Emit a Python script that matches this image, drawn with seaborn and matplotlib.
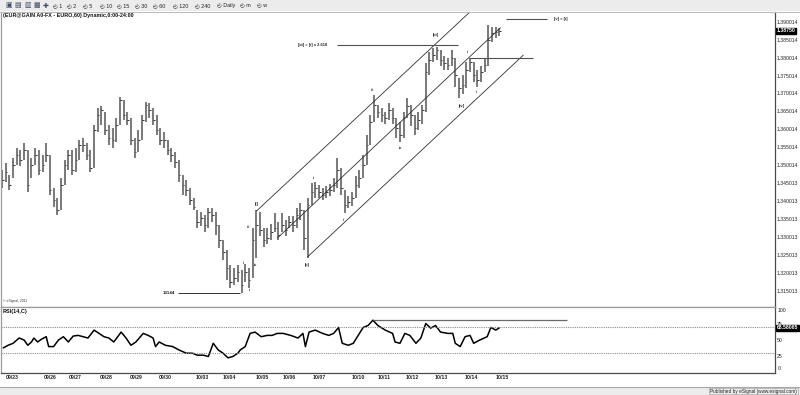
import matplotlib
matplotlib.use("Agg")
import matplotlib.pyplot as plt
import matplotlib.transforms as mtrans
from matplotlib.patches import Rectangle
import numpy as np
import pandas as pd
import seaborn as sns

sns.set_style("white")
plt.rcParams['font.family'] = ['Liberation Sans', 'DejaVu Sans']

# ---------------- data ----------------
bar_hours = list(range(0, 408, 3))  # one bar every 3 hours

close = [1.3459, 1.3481, 1.3445, 1.3501, 1.3529, 1.3515, 1.3543, 1.3445, 1.3501, 1.3529,
         1.3487, 1.3501, 1.3529, 1.3431, 1.3403, 1.3375, 1.3445, 1.3501, 1.3529, 1.3487,
         1.3515, 1.3557, 1.3557, 1.3529, 1.3493, 1.3598, 1.3640, 1.3654, 1.3598, 1.3576,
         1.3571, 1.3612, 1.3682, 1.3640, 1.3626, 1.3571, 1.3537, 1.3571, 1.3626, 1.3668,
         1.3654, 1.3626, 1.3598, 1.3571, 1.3571, 1.3543, 1.3529, 1.3509, 1.3473, 1.3445,
         1.3431, 1.3403, 1.3384, 1.3342, 1.3353, 1.3334, 1.3370, 1.3362, 1.3334, 1.3292,
         1.3258, 1.3214, 1.3175, 1.3186, 1.3203, 1.3167, 1.3203, 1.3180, 1.3292, 1.3334,
         1.3320, 1.3292, 1.3298, 1.3314, 1.3325, 1.3306, 1.3334, 1.3320, 1.3342, 1.3334,
         1.3362, 1.3375, 1.3298, 1.3389, 1.3426, 1.3437, 1.3426, 1.3417, 1.3426, 1.3431,
         1.3445, 1.3487, 1.3437, 1.3389, 1.3398, 1.3409, 1.3445, 1.3465, 1.3501, 1.3557,
         1.3621, 1.3668, 1.3649, 1.3640, 1.3632, 1.3654, 1.3632, 1.3604, 1.3584, 1.3632,
         1.3665, 1.3640, 1.3604, 1.3626, 1.3654, 1.3760, 1.3793, 1.3807, 1.3821, 1.3793,
         1.3785, 1.3779, 1.3799, 1.3752, 1.3715, 1.3724, 1.3766, 1.3788, 1.3752, 1.3738,
         1.3760, 1.3779, 1.3849, 1.3869, 1.3871, 1.3875]
high = [1.3487, 1.3506, 1.3473, 1.3520, 1.3548, 1.3543, 1.3562, 1.3543, 1.3520, 1.3548,
        1.3543, 1.3529, 1.3562, 1.3529, 1.3437, 1.3409, 1.3465, 1.3515, 1.3543, 1.3543,
        1.3548, 1.3571, 1.3576, 1.3562, 1.3543, 1.3612, 1.3660, 1.3665, 1.3649, 1.3612,
        1.3604, 1.3632, 1.3690, 1.3682, 1.3649, 1.3632, 1.3576, 1.3598, 1.3640, 1.3676,
        1.3674, 1.3660, 1.3640, 1.3604, 1.3593, 1.3571, 1.3548, 1.3537, 1.3515, 1.3473,
        1.3459, 1.3437, 1.3409, 1.3375, 1.3370, 1.3362, 1.3381, 1.3381, 1.3370, 1.3334,
        1.3292, 1.3264, 1.3222, 1.3214, 1.3222, 1.3208, 1.3225, 1.3214, 1.3325, 1.3375,
        1.3370, 1.3325, 1.3325, 1.3336, 1.3367, 1.3342, 1.3367, 1.3348, 1.3359, 1.3359,
        1.3381, 1.3395, 1.3375, 1.3409, 1.3451, 1.3454, 1.3445, 1.3437, 1.3442, 1.3448,
        1.3465, 1.3520, 1.3493, 1.3431, 1.3414, 1.3426, 1.3470, 1.3487, 1.3529, 1.3584,
        1.3640, 1.3696, 1.3668, 1.3660, 1.3649, 1.3674, 1.3660, 1.3632, 1.3621, 1.3649,
        1.3688, 1.3668, 1.3640, 1.3649, 1.3668, 1.3785, 1.3816, 1.3827, 1.3830, 1.3821,
        1.3805, 1.3799, 1.3821, 1.3799, 1.3743, 1.3752, 1.3788, 1.3799, 1.3788, 1.3766,
        1.3777, 1.3799, 1.3891, 1.3885, 1.3885, 1.3883]
low = [1.3437, 1.3454, 1.3431, 1.3465, 1.3501, 1.3498, 1.3515, 1.3426, 1.3465, 1.3501,
       1.3473, 1.3481, 1.3509, 1.3417, 1.3384, 1.3362, 1.3375, 1.3445, 1.3487, 1.3473,
       1.3481, 1.3515, 1.3537, 1.3515, 1.3481, 1.3493, 1.3593, 1.3612, 1.3584, 1.3557,
       1.3548, 1.3565, 1.3612, 1.3626, 1.3612, 1.3557, 1.3520, 1.3537, 1.3571, 1.3621,
       1.3632, 1.3612, 1.3584, 1.3557, 1.3548, 1.3529, 1.3509, 1.3493, 1.3454, 1.3417,
       1.3414, 1.3389, 1.3375, 1.3325, 1.3331, 1.3314, 1.3325, 1.3342, 1.3306, 1.3270,
       1.3236, 1.3180, 1.3158, 1.3167, 1.3175, 1.3144, 1.3175, 1.3158, 1.3186, 1.3242,
       1.3303, 1.3272, 1.3281, 1.3292, 1.3314, 1.3292, 1.3314, 1.3303, 1.3325, 1.3314,
       1.3325, 1.3348, 1.3264, 1.3242, 1.3389, 1.3409, 1.3409, 1.3403, 1.3409, 1.3414,
       1.3426, 1.3437, 1.3417, 1.3367, 1.3381, 1.3387, 1.3409, 1.3437, 1.3465, 1.3501,
       1.3557, 1.3621, 1.3632, 1.3621, 1.3615, 1.3626, 1.3615, 1.3576, 1.3565, 1.3576,
       1.3632, 1.3610, 1.3584, 1.3598, 1.3615, 1.3649, 1.3752, 1.3788, 1.3793, 1.3777,
       1.3766, 1.3766, 1.3777, 1.3718, 1.3688, 1.3699, 1.3715, 1.3760, 1.3732, 1.3718,
       1.3732, 1.3760, 1.3777, 1.3844, 1.3855, 1.3860]

rsi_hours = [1, 5, 9, 14, 18, 21, 24, 26, 29, 32, 36, 38, 42, 46, 50, 54, 58, 62, 66, 70,
             75, 79, 83, 87, 91, 97, 101, 105, 109, 115, 119, 123, 125, 128, 133, 139, 144, 150, 155, 159,
             164, 168, 172, 176, 180, 184, 188, 192, 194, 198, 202, 206, 211, 216, 220, 224, 229, 235, 241, 245,
             247, 250, 255, 261, 266, 270, 274, 277, 282, 286, 290, 294, 298, 302, 306, 312, 318, 320, 324, 328,
             332, 337, 341, 345, 349, 353, 357, 363, 367, 369, 373, 377, 381, 384, 389, 395, 398, 402, 405]
rsi_values = [38, 42, 45, 53, 50, 42, 47, 53, 47, 51, 55, 40, 40, 50, 55, 47, 56, 57, 55, 53,
              65, 60, 55, 53, 47, 62, 53, 42, 47, 60, 57, 53, 40, 47, 42, 40, 35, 30, 30, 27,
              27, 25, 45, 35, 30, 23, 25, 30, 35, 40, 60, 62, 55, 57, 57, 60, 60, 57, 53, 60,
              40, 62, 65, 60, 57, 60, 69, 45, 42, 45, 57, 69, 72, 80, 72, 65, 60, 47, 45, 60,
              57, 45, 53, 75, 68, 72, 62, 60, 60, 45, 40, 55, 57, 45, 50, 55, 69, 65, 68.58065]

date_labels = ["09/23", "09/26", "09/27", "09/28", "09/29", "09/30", "10/03", "10/04", "10/05",
               "10/06", "10/07", "10/10", "10/11", "10/12", "10/13", "10/14", "10/15"]
date_hours = [8, 39, 60, 85, 109, 133, 163, 185, 212, 234, 258, 290, 311, 334, 358, 382, 407]

price_ticks = [1.390014, 1.385014, 1.380014, 1.375014, 1.370014, 1.365014, 1.360014, 1.355014,
               1.350014, 1.345013, 1.340013, 1.335013, 1.330013, 1.325013, 1.320013, 1.315013]
price_tick_labels = ["1.390014", "1.385014", "1.380014", "1.375014", "1.370014", "1.365014",
                     "1.360014", "1.355014", "1.350014", "1.345013", "1.340013", "1.335013",
                     "1.330013", "1.325013", "1.320013", "1.315013"]
rsi_ticks = [100, 75, 50, 25, 0]

# channel lines (hour, price) pairs
upper_channel = ([207.3, 380.5], [1.3373, 1.3926])
middle_channel = ([224.4, 405.7], [1.3298, 1.3883])
lower_channel = ([248.8, 424.4], [1.3245, 1.3807])

wave_labels = ["[i]", "i", "ii", "iii", "iv", "[ii]", "i", "ii", "iii", "iv", "[iii]", "[iv]", "i", "ii"]
wave_hours = [207.3, 196.7, 201.6, 200.8, 206.5, 248.8, 253.7, 278, 301.6, 324.4, 352.8, 374, 378.9, 386.2]
wave_prices = [1.3392, 1.3228, 1.3153, 1.3328, 1.3222, 1.3222, 1.3465, 1.3348, 1.3710, 1.3548,
               1.3863, 1.3665, 1.3816, 1.3704]

low_level = 1.3144
target_level = 1.3835
v_level = 1.3907
i_level = 1.3799
rsi_high_level = 80
last_price = 1.38750
last_rsi = 68.58065

# ---------------- figure ----------------
W, H = 800, 395
fig = plt.figure(figsize=(8, 3.95), dpi=100)
fig.patch.set_facecolor("white")


def frac(x0, y0, x1, y1):
    return [x0 / W, 1 - y1 / H, (x1 - x0) / W, (y1 - y0) / H]


ax = fig.add_axes(frac(1, 12, 775, 307))
axr = fig.add_axes(frac(1, 307, 775, 373), sharex=ax)

df = pd.DataFrame({"t": bar_hours, "high": high, "low": low, "close": close})
ax.vlines(df["t"], df["low"], df["high"], color="#7c7c7c", lw=1.45)
ax.hlines(df["close"], df["t"], df["t"] + 1.3, color="#333333", lw=0.7)

for xs, ys in (upper_channel, middle_channel, lower_channel):
    ax.plot(xs, ys, color="#303030", lw=0.6)

ax.hlines(low_level, 143, 194, color="#303030", lw=0.7)
ax.text(141, low_level, "13144", fontsize=3.2, ha="right", va="center", color="#222", fontweight="bold")
ax.hlines(target_level, 273, 371, color="#505050", lw=0.8)
ax.text(240.7, target_level, "[iii] = [i] x 2.618", fontsize=2.9, ha="left", va="center", color="#222",
        fontweight="bold")
ax.hlines(v_level, 410, 444, color="#505050", lw=0.8)
ax.text(449, v_level, "[v] = [i]", fontsize=2.9, ha="left", va="center", color="#222", fontweight="bold")
ax.hlines(i_level, 380, 432, color="#505050", lw=0.8)

for lab, hx, py in zip(wave_labels, wave_hours, wave_prices):
    ax.text(hx, py, lab, fontsize=2.8, ha="center", va="center", color="#2a2a2a", fontweight="bold")

ax.set_xlim(-0.8, 629.3)
ax.set_ylim(1.31053, 1.39272)
ax.yaxis.tick_right()
ax.set_yticks(price_ticks)
ax.set_yticklabels(price_tick_labels)
ax.tick_params(axis="y", length=0, pad=1.5, labelsize=3.7, colors="#222")
ax.tick_params(axis="x", length=0, labelbottom=False)

ax.text(0.002, 0.995, "(EUR@GAIN A0-FX - EURO,60) Dynamic,0:00-24:00", transform=ax.transAxes,
        fontsize=3.9, fontweight="bold", ha="left", va="top", color="#111")
ax.text(0.003, 0.012, "\u00a9 eSignal, 2011", transform=ax.transAxes, fontsize=2.4, ha="left",
        va="bottom", color="#333")

trm = mtrans.blended_transform_factory(ax.transAxes, ax.transData)
ax.text(1.0025, last_price, "1.38750", transform=trm, fontsize=3.7, color="white", ha="left", va="center",
        bbox=dict(facecolor="black", edgecolor="black", pad=0.4), fontweight="bold")

# RSI panel
sns.lineplot(x=rsi_hours, y=rsi_values, ax=axr, color="black", lw=1.1)
axr.axhline(70, color="#8c8c8c", lw=0.8, ls=(0, (1, 1)))
axr.axhline(30, color="#8c8c8c", lw=0.8, ls=(0, (1, 1)))
axr.hlines(rsi_high_level, 302, 460, color="#6a6a6a", lw=0.9)
axr.set_ylim(0, 100)
axr.yaxis.tick_right()
axr.set_yticks(rsi_ticks)
axr.set_yticklabels(["", "75", "50", "25", ""])
axr.tick_params(axis="y", length=0, pad=1.5, labelsize=3.7, colors="#222")
axr.text(1.0035, 0.985, "100", transform=axr.transAxes, fontsize=3.7, ha="left", va="top", color="#222")
axr.text(1.0035, 0.035, "0", transform=axr.transAxes, fontsize=3.7, ha="left", va="bottom", color="#222")
trr = mtrans.blended_transform_factory(axr.transAxes, axr.transData)
axr.text(1.0025, last_rsi, "68.58065", transform=trr, fontsize=3.7, color="white", ha="left", va="center",
         bbox=dict(facecolor="black", edgecolor="black", pad=0.4), fontweight="bold")
axr.text(0.0015, 0.97, "RSI(14,C)", transform=axr.transAxes, fontsize=4.0, fontweight="bold",
         ha="left", va="top", color="#111")
axr.set_xticks(date_hours)
axr.set_xticklabels(date_labels)
axr.tick_params(axis="x", length=0, pad=1.2, labelsize=3.7, colors="#222")
for lab in axr.get_xticklabels():
    lab.set_fontweight("bold")
axr.set_xlabel("")
axr.set_ylabel("")

for a in (ax, axr):
    for side in ("left", "top", "bottom"):
        a.spines[side].set_color("#9a9a9a")
        a.spines[side].set_linewidth(0.9)
    a.spines["right"].set_color("#4a4a4a")
    a.spines["right"].set_linewidth(0.9)
ax.spines["top"].set_visible(False)
axr.spines["bottom"].set_color("#4a4a4a")

# toolbar strip
fig.patches.append(Rectangle((0, 1 - 11 / H), 1, 11 / H, transform=fig.transFigure,
                             facecolor="#ececec", edgecolor="none", zorder=0))
fig.add_artist(plt.Line2D([0, 1], [1 - 11.5 / H, 1 - 11.5 / H], transform=fig.transFigure,
                          color="#bdbdbd", lw=0.8))
tool_icons = ["\u25a3", "\u25a4", "\u25a5", "\u25a6", "\u271a"]
for i, ic in enumerate(tool_icons):
    fig.text((5 + i * 9.5) / W, 1 - 5.5 / H, ic, fontsize=5, ha="left", va="center", color="#3a4a6a",
             family=["DejaVu Sans"])
intervals = ["1", "2", "5", "10", "15", "30", "60", "120", "240", "Daily", "m", "w"]
interval_x = [53, 67, 83, 100, 117, 135, 153, 173, 195, 217, 240, 257]
for lab, xx in zip(intervals, interval_x):
    fig.text(xx / W, 1 - 5.5 / H, "\u25f4 " + lab, fontsize=3.9, ha="left", va="center", color="#222",
             family=["Liberation Sans", "DejaVu Sans"])

# status bar
fig.patches.append(Rectangle((0, 0), 1, 8 / H, transform=fig.transFigure,
                             facecolor="#ececec", edgecolor="none", zorder=0))
fig.add_artist(plt.Line2D([0, 1], [8 / H, 8 / H], transform=fig.transFigure, color="#a8a8a8", lw=0.8))
fig.text(797 / W, 4 / H, "Published by eSignal (www.esignal.com)", fontsize=3.4, ha="right", va="center",
         color="#222", bbox=dict(facecolor="none", edgecolor="#9a9a9a", lw=0.4, pad=0.6))

fig.savefig("out.png", dpi=100, facecolor="white")
